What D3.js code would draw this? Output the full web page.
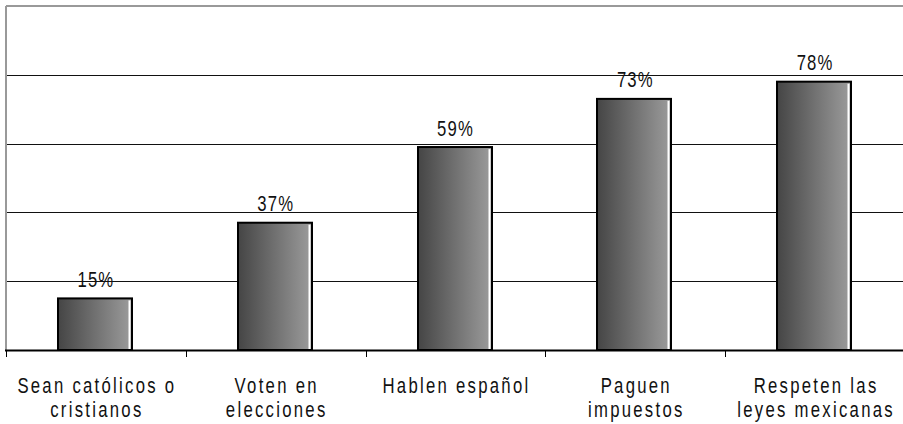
<!DOCTYPE html>
<html>
<head>
<meta charset="utf-8">
<script src="https://cdn.jsdelivr.net/npm/d3@7"></script>
<style>
  html, body { margin: 0; padding: 0; background: #fff; }
  svg { display: block; }
  text { font-family: Arial, "Liberation Sans", sans-serif; fill: #111; }
</style>
</head>
<body>
<svg id="chart" width="903" height="424"></svg>
<script>
const categories = [
  ["Sean católicos o", "cristianos"],
  ["Voten en", "elecciones"],
  ["Hablen español"],
  ["Paguen", "impuestos"],
  ["Respeten las", "leyes mexicanas"]
];
const values = [15, 37, 59, 73, 78];
const valueLabels = ["15%", "37%", "59%", "73%", "78%"];
const gridTicks = [20, 40, 60, 80];

const svg = d3.select("#chart");
const W = 903, H = 424;
const mLeft = 6, mRight = 905, mTop = 6, mBottom = 350;
const sx = 0.76;

const x = d3.scaleBand().domain(d3.range(categories.length)).range([mLeft, mRight]).padding(0);
const y = d3.scaleLinear().domain([0, 100]).range([mBottom, mTop]);

const defs = svg.append("defs");
const grad = defs.append("linearGradient").attr("id", "barGrad")
  .attr("x1", "0%").attr("x2", "100%").attr("y1", "0%").attr("y2", "0%");
grad.append("stop").attr("offset", "0%").attr("stop-color", "#454545");
grad.append("stop").attr("offset", "100%").attr("stop-color", "#9c9c9c");

// gridlines
svg.append("g").selectAll("line").data(gridTicks).join("line")
  .attr("x1", mLeft).attr("x2", W)
  .attr("y1", d => Math.round(y(d)) + 0.5).attr("y2", d => Math.round(y(d)) + 0.5)
  .attr("stroke", "#111").attr("stroke-width", 1);

// plot border top/left (gray)
svg.append("line").attr("x1", mLeft).attr("x2", W).attr("y1", mTop).attr("y2", mTop)
  .attr("stroke", "#999").attr("stroke-width", 2);
svg.append("line").attr("x1", mLeft).attr("x2", mLeft).attr("y1", mTop).attr("y2", mBottom)
  .attr("stroke", "#999").attr("stroke-width", 2);

// bars
const bw = 74;
const barX = i => Math.round(x(i) + x.bandwidth() / 2 - bw / 2 - 1);
const bars = svg.append("g").selectAll("g").data(values).join("g");
bars.append("rect")
  .attr("x", (d, i) => barX(i))
  .attr("y", d => y(d))
  .attr("width", bw)
  .attr("height", d => mBottom - y(d))
  .attr("fill", "url(#barGrad)")
  .attr("stroke", "#000").attr("stroke-width", 2);
bars.append("line")
  .attr("x1", (d, i) => barX(i) + bw - 2.5)
  .attr("x2", (d, i) => barX(i) + bw - 2.5)
  .attr("y1", d => y(d) + 2)
  .attr("y2", mBottom - 1)
  .attr("stroke", "#fff").attr("stroke-width", 2);

// value labels
svg.append("g").selectAll("text").data(values).join("text")
  .attr("transform", (d, i) => `translate(${x(i) + x.bandwidth() / 2},${y(d) - 11.5}) scale(${sx},1)`)
  .attr("text-anchor", "middle")
  .style("font-size", "22px")
  .style("letter-spacing", "1.5px")
  .text((d, i) => valueLabels[i]);

// x axis
svg.append("line").attr("x1", mLeft - 1).attr("x2", W).attr("y1", mBottom + 0.5).attr("y2", mBottom + 0.5)
  .attr("stroke", "#000").attr("stroke-width", 2);
const tickXs = d3.range(categories.length + 1).map(i => mLeft + i * x.step());
svg.append("g").selectAll("line").data(tickXs).join("line")
  .attr("x1", d => Math.round(d) + 0.5).attr("x2", d => Math.round(d) + 0.5)
  .attr("y1", mBottom).attr("y2", mBottom + 7)
  .attr("stroke", "#000").attr("stroke-width", 1);

// category labels
const cat = svg.append("g").selectAll("text").data(categories).join("text")
  .attr("transform", (d, i) => `translate(${x(i) + x.bandwidth() / 2 + 1},0) scale(${sx},1)`)
  .attr("text-anchor", "middle")
  .style("font-size", "22px")
  .style("letter-spacing", "3px");
cat.each(function (lines, i) {
  const t = d3.select(this);
  lines.forEach((ln, j) => {
    t.append("tspan")
      .attr("x", 0)
      .attr("y", 393 + j * 24)
      .text(ln);
  });
});
</script>
</body>
</html>
